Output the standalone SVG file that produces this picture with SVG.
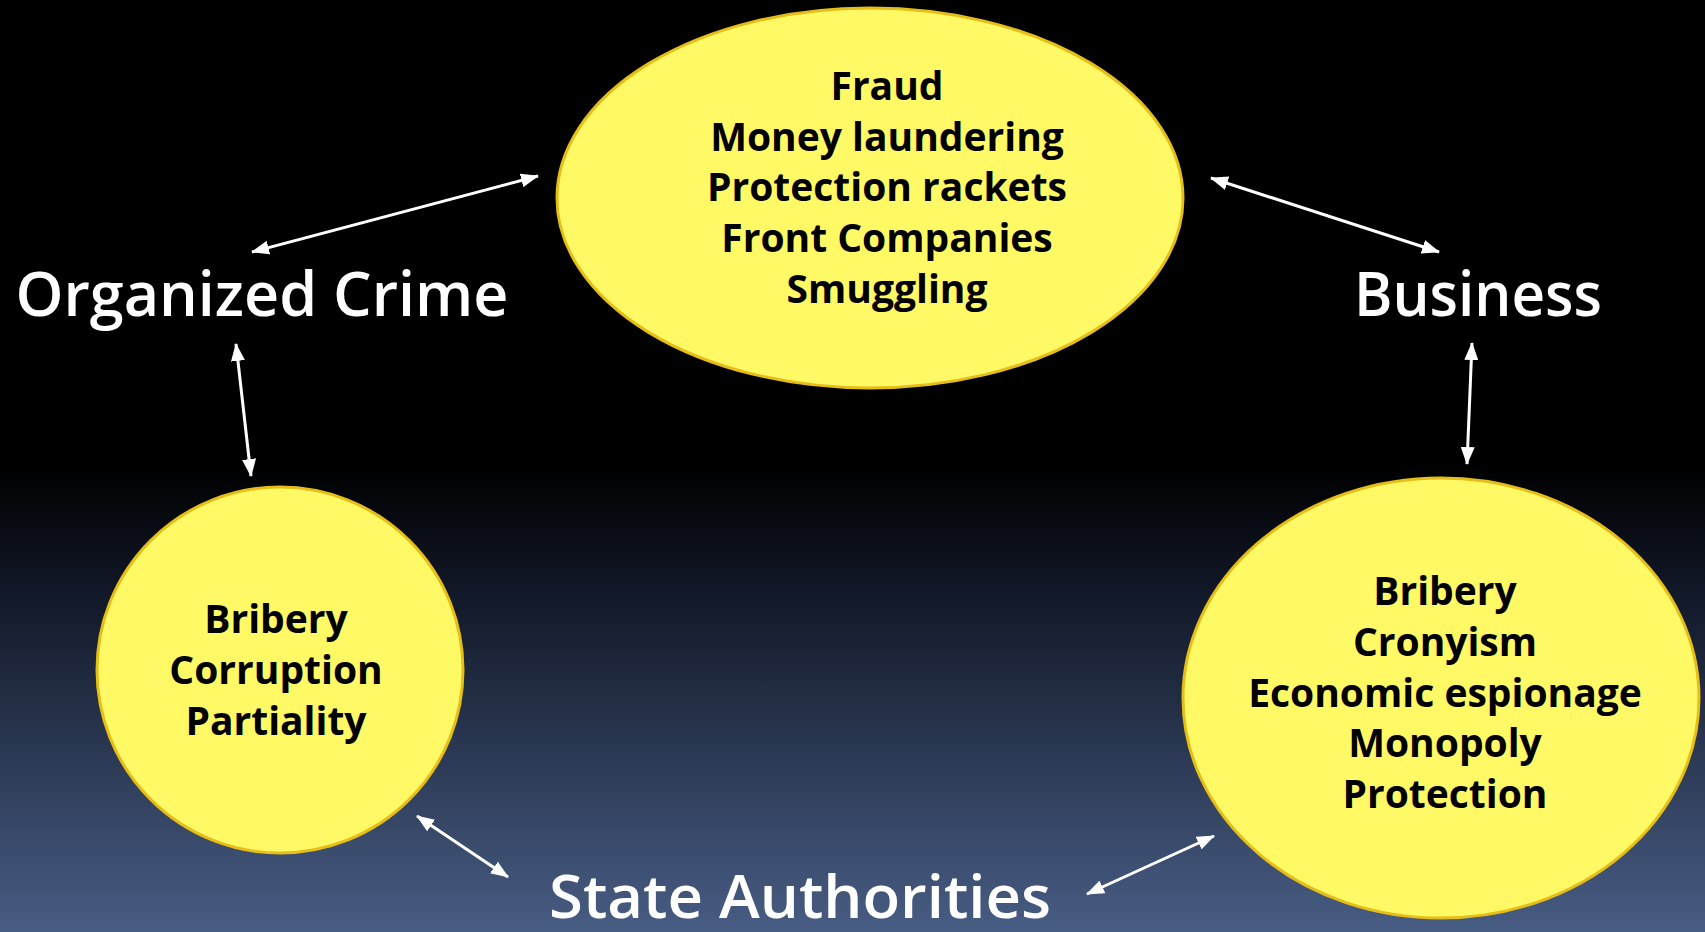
<svg xmlns="http://www.w3.org/2000/svg" width="1705" height="932" viewBox="0 0 1705 932">
<defs>
<linearGradient id="bg" x1="0" y1="0" x2="0" y2="1">
<stop offset="0" stop-color="#000000"/>
<stop offset="0.5" stop-color="#000000"/>
<stop offset="0.62" stop-color="#0f1523"/>
<stop offset="1" stop-color="#485d84"/>
</linearGradient>
<marker id="ah" markerUnits="userSpaceOnUse" markerWidth="18" markerHeight="14" refX="17" refY="7" orient="auto-start-reverse" viewBox="0 0 18 14">
<path d="M0,0 L18,7 L0,14 z" fill="#ffffff"/>
</marker>
<style>
.node{fill:#fff966;stroke:#e6be17;stroke-width:3}
.lbl{font-family:"Open Sans","Liberation Sans",sans-serif;font-weight:600;fill:#ffffff;text-anchor:middle}
.itm{font-family:"Open Sans","Liberation Sans",sans-serif;font-weight:700;font-size:39px;fill:#000000;text-anchor:middle}
.con{stroke:#ffffff;stroke-width:3;fill:none;marker-start:url(#ah);marker-end:url(#ah)}
</style>
</defs>
<rect x="0" y="0" width="1705" height="932" fill="url(#bg)"/>
<g id="connectors">
<line class="con" x1="252" y1="252" x2="538" y2="176"/>
<line class="con" x1="236" y1="344" x2="251" y2="476"/>
<line class="con" x1="417" y1="816" x2="508" y2="877"/>
<line class="con" x1="1087" y1="894" x2="1214" y2="836"/>
<line class="con" x1="1211" y1="178" x2="1439" y2="252"/>
<line class="con" x1="1472" y1="343" x2="1467" y2="464"/>
</g>
<g id="organized-crime">
<text class="lbl" x="262" y="316" font-size="62" textLength="493" lengthAdjust="spacingAndGlyphs">Organized Crime</text>
</g>
<g id="business">
<text class="lbl" x="1478" y="316" font-size="62" textLength="248" lengthAdjust="spacingAndGlyphs">Business</text>
</g>
<g id="state-authorities">
<text class="lbl" x="800" y="918" font-size="59" textLength="502" lengthAdjust="spacingAndGlyphs">State Authorities</text>
</g>
<g id="crimes">
<ellipse class="node" cx="870" cy="198" rx="313" ry="190"/>
<text class="itm" x="887" y="100">Fraud</text>
<text class="itm" x="887" y="151">Money laundering</text>
<text class="itm" x="887" y="201">Protection rackets</text>
<text class="itm" x="887" y="252">Front Companies</text>
<text class="itm" x="887" y="303">Smuggling</text>
</g>
<g id="state-corruption">
<ellipse class="node" cx="280" cy="670" rx="183" ry="183"/>
<text class="itm" x="276" y="633">Bribery</text>
<text class="itm" x="276" y="684">Corruption</text>
<text class="itm" x="276" y="735">Partiality</text>
</g>
<g id="business-corruption">
<ellipse class="node" cx="1441" cy="698" rx="258" ry="220"/>
<text class="itm" x="1445" y="605">Bribery</text>
<text class="itm" x="1445" y="656">Cronyism</text>
<text class="itm" x="1445" y="707">Economic espionage</text>
<text class="itm" x="1445" y="757">Monopoly</text>
<text class="itm" x="1445" y="808">Protection</text>
</g>
</svg>
